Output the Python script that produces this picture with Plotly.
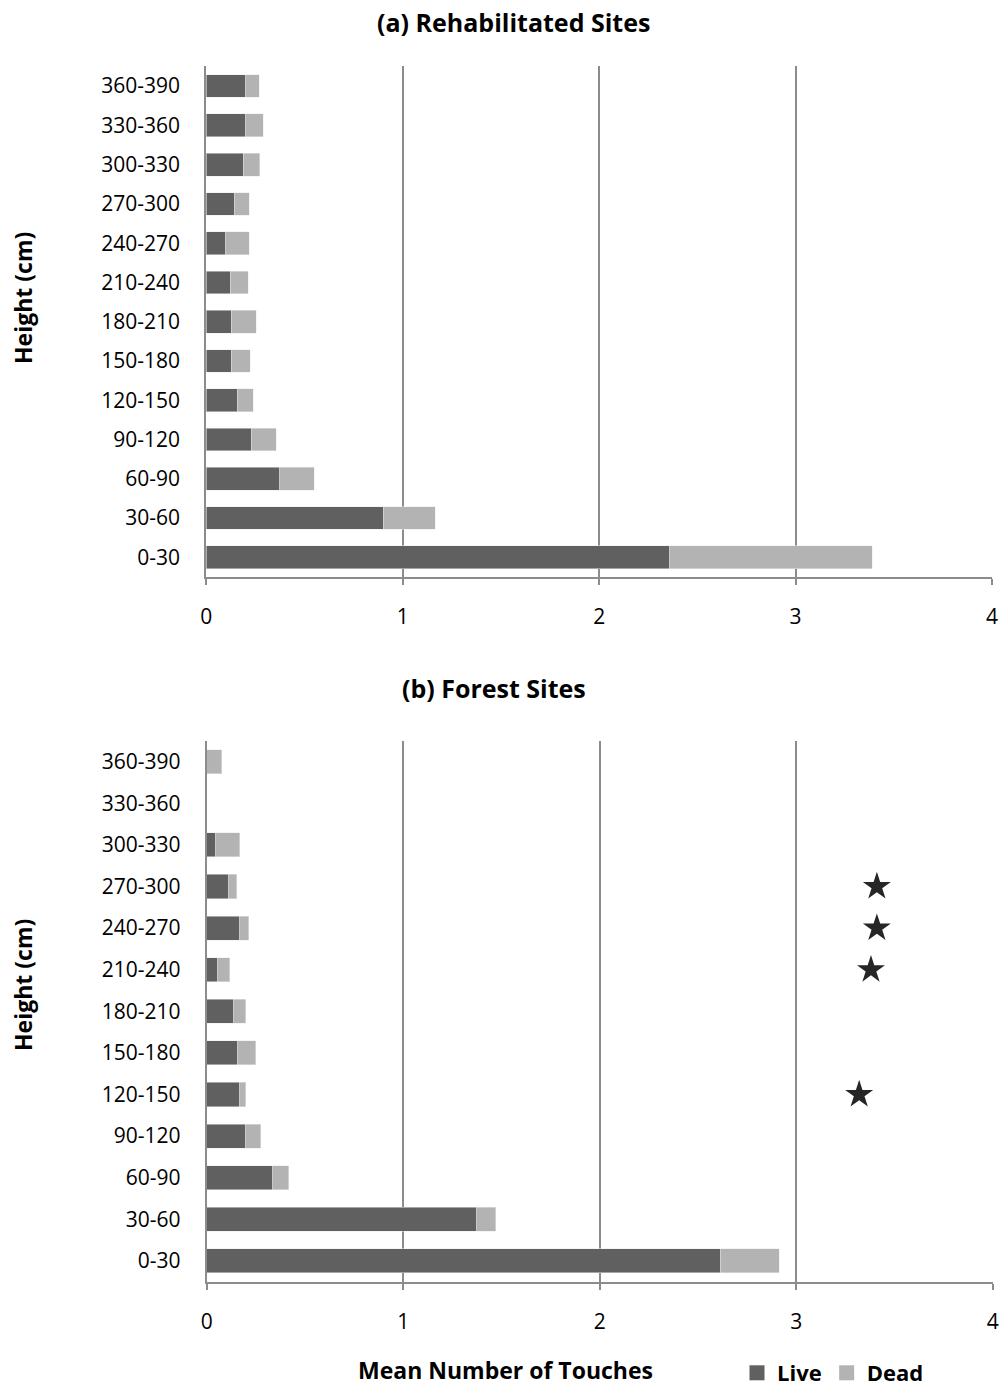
import plotly.graph_objects as go

# Height classes (bottom to top)
heights = ["0-30", "30-60", "60-90", "90-120", "120-150", "150-180", "180-210",
           "210-240", "240-270", "270-300", "300-330", "330-360", "360-390"]

# (a) Rehabilitated sites: mean number of touches
rehab_live = [2.36, 0.90, 0.375, 0.228, 0.157, 0.126, 0.126, 0.121, 0.100, 0.141, 0.187, 0.202, 0.202]
rehab_dead = [1.03, 0.265, 0.174, 0.127, 0.081, 0.097, 0.127, 0.092, 0.118, 0.077, 0.086, 0.087, 0.067]

# (b) Forest sites: mean number of touches
forest_live = [2.613, 1.375, 0.335, 0.198, 0.167, 0.157, 0.137, 0.056, 0.167, 0.112, 0.046, 0.0, 0.0]
forest_dead = [0.299, 0.096, 0.081, 0.076, 0.031, 0.092, 0.061, 0.061, 0.046, 0.040, 0.121, 0.0, 0.076]

# Significance stars (forest panel)
star_rows = ["270-300", "240-270", "210-240", "120-150"]
star_x = [3.41, 3.41, 3.38, 3.32]

LIVE = "#606060"
DEAD = "#b3b3b3"
GRID = "#8c8c8c"
FONT = "Open Sans"

idx = list(range(len(heights)))
fig = go.Figure()

for xa, ya, live, dead in (("x", "y", rehab_live, rehab_dead), ("x2", "y2", forest_live, forest_dead)):
    fig.add_trace(go.Bar(y=idx, x=live, orientation="h", marker_color=LIVE, name="Live",
                         width=0.58, xaxis=xa, yaxis=ya, showlegend=False))
    fig.add_trace(go.Bar(y=idx, x=dead, orientation="h", marker_color=DEAD, name="Dead",
                         width=0.58, xaxis=xa, yaxis=ya, showlegend=False))

fig.add_trace(go.Scatter(x=star_x, y=[heights.index(r) for r in star_rows], mode="markers",
                         marker=dict(symbol="star", size=21, color="#262626"),
                         xaxis="x2", yaxis="y2", showlegend=False))

# Legend entries with square swatches
for name, col in (("Live", LIVE), ("Dead", DEAD)):
    fig.add_trace(go.Scatter(x=[None], y=[None], mode="markers", name=name,
                             marker=dict(symbol="square", size=15, color=col),
                             xaxis="x2", yaxis="y2", showlegend=True))

xcommon = dict(range=[0, 4], tickvals=[0, 1, 2, 3, 4], showgrid=True, gridcolor=GRID, gridwidth=1.5,
               showline=True, linecolor=GRID, linewidth=2, ticks="outside", ticklen=6,
               tickcolor=GRID, tickwidth=1.5, zeroline=False, automargin=False,
               ticklabelstandoff=14,
               tickfont=dict(family=FONT, size=21, color="#000"), fixedrange=True)
ycommon = dict(range=[-0.5, 12.5], tickvals=idx, ticktext=heights, showgrid=False,
               showline=True, linecolor=GRID, linewidth=2, ticks="", zeroline=False,
               automargin=False, ticklabelstandoff=20,
               tickfont=dict(family=FONT, size=21, color="#000"), fixedrange=True)

fig.update_layout(
    width=1000, height=1387,
    margin=dict(l=0, r=0, t=0, b=0, autoexpand=False),
    paper_bgcolor="white", plot_bgcolor="white",
    barmode="stack",
    xaxis=dict(domain=[0.2063, 0.992], anchor="y", **xcommon),
    yaxis=dict(domain=[0.584, 0.9521], anchor="x", **ycommon),
    xaxis2=dict(domain=[0.2068, 0.9928], anchor="y2", **xcommon),
    yaxis2=dict(domain=[0.0759, 0.4658], anchor="x2", **ycommon),
    legend=dict(orientation="h", x=0.737, y=1 - 1373 / 1387, xanchor="left", yanchor="middle",
                font=dict(family=FONT, size=22, color="#000", weight="bold"),
                itemwidth=30, traceorder="normal", bgcolor="rgba(0,0,0,0)"),
    showlegend=True,
)

title_font = dict(family=FONT, size=25, color="#000", weight="bold")
axis_font = dict(family=FONT, size=23, color="#000", weight="bold")
fig.add_annotation(text="(a) Rehabilitated Sites", x=0.513, y=1 - 22 / 1387, xref="paper", yref="paper",
                   showarrow=False, font=title_font, xanchor="center", yanchor="middle")
fig.add_annotation(text="(b) Forest Sites", x=0.494, y=1 - 688 / 1387, xref="paper", yref="paper",
                   showarrow=False, font=title_font, xanchor="center", yanchor="middle")
fig.add_annotation(text="Mean Number of Touches", x=0.505, y=1 - 1370 / 1387, xref="paper", yref="paper",
                   showarrow=False, font=axis_font, xanchor="center", yanchor="middle")
fig.add_annotation(text="Height (cm)", x=0.023, y=1 - 298 / 1387, xref="paper", yref="paper",
                   showarrow=False, font=axis_font, textangle=-90, xanchor="center", yanchor="middle")
fig.add_annotation(text="Height (cm)", x=0.023, y=1 - 985 / 1387, xref="paper", yref="paper",
                   showarrow=False, font=axis_font, textangle=-90, xanchor="center", yanchor="middle")

fig.write_html("out.html")
